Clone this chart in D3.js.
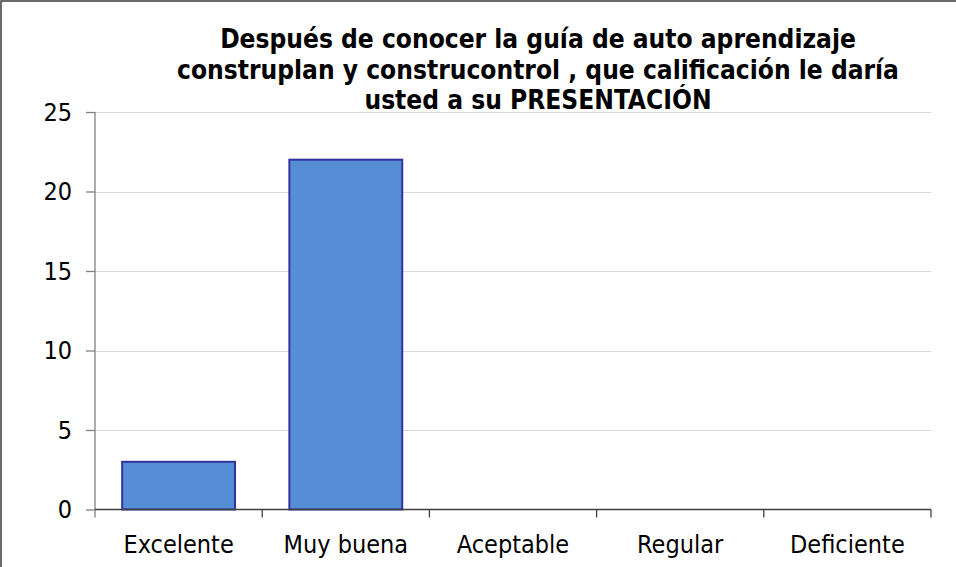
<!DOCTYPE html>
<html>
<head>
<meta charset="utf-8">
<script src="https://cdn.jsdelivr.net/npm/d3@7"></script>
<style>
  html, body { margin: 0; padding: 0; background: #fff; }
  svg { display: block; }
</style>
</head>
<body>
<script>
// Survey results: rating given to the PRESENTATION of the guide
const categories = ["Excelente", "Muy buena", "Aceptable", "Regular", "Deficiente"];
const counts = [3, 22, 0, 0, 0];
const yTicks = [0, 5, 10, 15, 20, 25];
const titleLines = [
  "Después de conocer la guía de auto aprendizaje",
  "construplan y construcontrol , que calificación le daría",
  "usted a su PRESENTACIÓN"
];

const W = 956, H = 567;
const plot = { left: 95, right: 931, top: 112, bottom: 509.5 };
const FONT = "'DejaVu Sans Condensed', 'DejaVu Sans', Verdana, sans-serif";

const svg = d3.select("body").append("svg")
  .attr("width", W).attr("height", H);

svg.append("rect").attr("width", W).attr("height", H).attr("fill", "#fff");

// outer frame (left and top edges)
svg.append("path")
  .attr("d", `M1,${H} V1 H${W}`)
  .attr("fill", "none").attr("stroke", "#3a3a3a").attr("stroke-width", 1.5);

const x = d3.scaleBand()
  .domain(categories)
  .range([plot.left, plot.right])
  .paddingInner(0.325)
  .paddingOuter(0.1625);

const y = d3.scaleLinear()
  .domain([0, 25])
  .range([plot.bottom, plot.top]);

// horizontal gridlines
svg.append("g").selectAll("line")
  .data(yTicks.filter(d => d > 0))
  .join("line")
  .attr("x1", plot.left).attr("x2", plot.right)
  .attr("y1", d => Math.round(y(d)) + 0.5).attr("y2", d => Math.round(y(d)) + 0.5)
  .attr("stroke", "#d9d9d9").attr("stroke-width", 1.2);

// bars
svg.append("g").selectAll("rect")
  .data(categories.map((c, i) => ({ c, v: counts[i] })).filter(d => d.v > 0))
  .join("rect")
  .attr("x", d => x(d.c))
  .attr("y", d => y(d.v))
  .attr("width", x.bandwidth())
  .attr("height", d => y(0) - y(d.v))
  .attr("fill", "#558ed5")
  .attr("stroke", "#3333a0")
  .attr("stroke-width", 2);

// y axis
const yAxis = d3.axisLeft(y).tickValues(yTicks).tickSize(9).tickPadding(14);
const gy = svg.append("g").attr("transform", `translate(${plot.left},0)`).call(yAxis);
gy.select(".domain").remove();
gy.append("line")
  .attr("x1", 0).attr("x2", 0)
  .attr("y1", plot.top).attr("y2", plot.bottom + 8)
  .attr("stroke", "#808080").attr("stroke-width", 1.3);
gy.selectAll(".tick line").attr("stroke", "#808080").attr("stroke-width", 1.3);
gy.selectAll(".tick text")
  .attr("fill", "#000")
  .style("font-family", FONT)
  .style("font-size", "25px");

// x axis: baseline plus ticks at category boundaries
const gx = svg.append("g");
gx.append("line")
  .attr("x1", plot.left).attr("x2", plot.right)
  .attr("y1", plot.bottom).attr("y2", plot.bottom)
  .attr("stroke", "#404040").attr("stroke-width", 1.3);
const boundaries = categories.slice(1).map(c => x(c) - x.step() * x.paddingInner() / 2)
  .concat([plot.right]);
gx.selectAll("line.tk")
  .data(boundaries)
  .join("line").attr("class", "tk")
  .attr("x1", d => d).attr("x2", d => d)
  .attr("y1", plot.bottom).attr("y2", plot.bottom + 8)
  .attr("stroke", "#404040").attr("stroke-width", 1.3);
gx.selectAll("text")
  .data(categories)
  .join("text")
  .attr("x", d => x(d) + x.bandwidth() / 2)
  .attr("y", 553)
  .attr("text-anchor", "middle")
  .attr("fill", "#000")
  .style("font-family", FONT)
  .style("font-size", "25px")
  .text(d => d);

// title block, sitting over the top of the plot area
const titleCenter = 538;
const baselines = [48, 78.5, 108.5];
svg.append("rect")
  .attr("x", 168).attr("y", 8).attr("width", 742).attr("height", 103)
  .attr("fill", "#fff");
const titleTexts = svg.append("g").selectAll("text")
  .data(titleLines)
  .join("text")
  .attr("x", titleCenter)
  .attr("y", (d, i) => baselines[i])
  .attr("text-anchor", "middle")
  .attr("fill", "#000")
  .style("font-family", FONT)
  .style("font-weight", "bold")
  .style("font-size", "22px")
  .text(d => d);
// fit the widest line to the available width
const widest = d3.max(titleTexts.nodes(), n => n.getComputedTextLength());
titleTexts.style("font-size", (22 * 722 / widest).toFixed(2) + "px");
</script>
</body>
</html>
